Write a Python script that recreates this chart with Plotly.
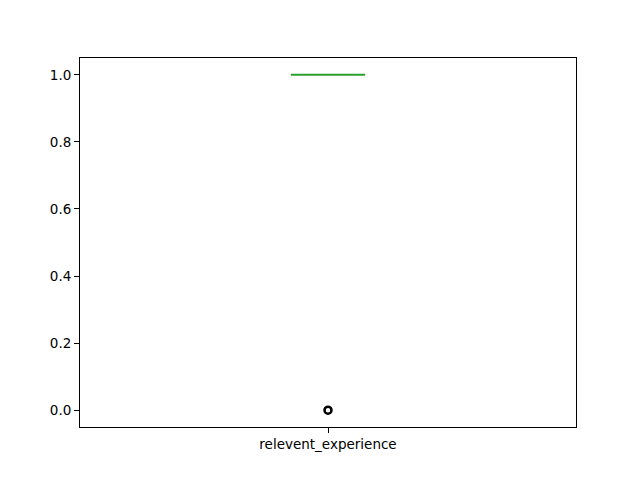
import plotly.graph_objects as go

category = ["relevent_experience"]
positions = [1]
q1 = [1.0]
median = [1.0]
q3 = [1.0]
lower_fence = [1.0]
upper_fence = [1.0]
outlier_values = [0.0]
y_ticks = [0.0, 0.2, 0.4, 0.6, 0.8, 1.0]

fig = go.Figure()
fig.add_trace(go.Box(
    x=positions, q1=q1, median=median, q3=q3,
    lowerfence=lower_fence, upperfence=upper_fence,
    width=0.15, whiskerwidth=0.5,
    line=dict(color="#2ca02c", width=2),
    fillcolor="rgba(0,0,0,0)",
    boxpoints=False, showlegend=False, hoverinfo="skip",
))
fig.add_trace(go.Scatter(
    x=[positions[0]] * len(outlier_values), y=outlier_values,
    mode="markers",
    marker=dict(symbol="circle-open", size=7, color="black", line=dict(width=2.5, color="black")),
    showlegend=False, hoverinfo="skip",
))

axis_common = dict(
    showgrid=False, zeroline=False, showline=True, linecolor="black", linewidth=1,
    mirror=True, ticks="outside", ticklen=5, tickwidth=1, tickcolor="black",
    tickfont=dict(family="DejaVu Sans", size=13.5, color="black"),
)
fig.update_layout(
    width=640, height=480,
    margin=dict(l=80, r=64, t=58, b=53),
    plot_bgcolor="white", paper_bgcolor="white",
    xaxis=dict(range=[0.5, 1.5], tickvals=positions, ticktext=category, **axis_common),
    yaxis=dict(range=[-0.05, 1.05], tickvals=y_ticks, tickformat=".1f", **axis_common),
)
fig.write_html("out.html")
